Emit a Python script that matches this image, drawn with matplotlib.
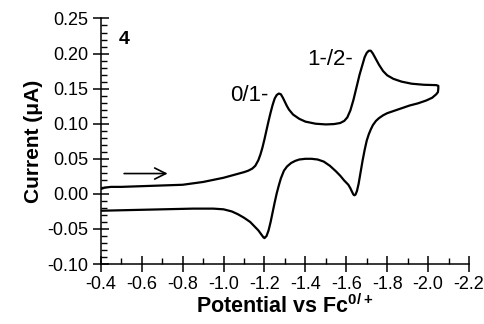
import matplotlib
matplotlib.use("Agg")
import matplotlib.pyplot as plt
from matplotlib.ticker import MultipleLocator, FormatStrFormatter

plt.rcParams['font.family'] = ['Liberation Sans', 'DejaVu Sans']
plt.rcParams['mathtext.fontset'] = 'custom'
plt.rcParams['mathtext.bf'] = 'Liberation Sans:bold'

# forward scan (towards negative potential)
fwd_potential = [-0.40, -0.42, -0.45, -0.50, -0.60, -0.70, -0.80, -0.90, -1.00, -1.05,
                 -1.10, -1.12, -1.14, -1.155, -1.17, -1.18, -1.19, -1.20, -1.21, -1.22,
                 -1.23, -1.24, -1.25, -1.26, -1.27, -1.28, -1.29, -1.30, -1.31, -1.32,
                 -1.34, -1.37, -1.40, -1.45, -1.50, -1.54, -1.57, -1.59, -1.605, -1.62,
                 -1.635, -1.65, -1.665, -1.68, -1.69, -1.70, -1.71, -1.72, -1.73, -1.745,
                 -1.76, -1.78, -1.80, -1.83, -1.87, -1.92, -1.98, -2.04, -2.05]
fwd_current = [0.007, 0.009, 0.010, 0.010, 0.011, 0.012, 0.013, 0.017, 0.023, 0.027,
               0.031, 0.033, 0.036, 0.040, 0.048, 0.056, 0.066, 0.078, 0.091, 0.104,
               0.116, 0.127, 0.136, 0.141, 0.143, 0.142, 0.137, 0.131, 0.125, 0.120,
               0.113, 0.107, 0.103, 0.100, 0.099, 0.0995, 0.101, 0.104, 0.109, 0.119,
               0.134, 0.152, 0.170, 0.185, 0.195, 0.201, 0.204, 0.204, 0.200, 0.192,
               0.184, 0.175, 0.169, 0.164, 0.160, 0.157, 0.1555, 0.155, 0.154]

# return scan
rev_potential = [-2.05, -2.048, -2.04, -2.02, -1.99, -1.95, -1.91, -1.87, -1.83, -1.80,
                 -1.78, -1.76, -1.745, -1.73, -1.72, -1.71, -1.70, -1.69, -1.68, -1.67,
                 -1.66, -1.652, -1.645, -1.64, -1.635, -1.628, -1.62, -1.61, -1.59, -1.57,
                 -1.55, -1.52, -1.49, -1.46, -1.43, -1.40, -1.37, -1.35, -1.33, -1.31,
                 -1.295, -1.28, -1.27, -1.26, -1.25, -1.24, -1.23, -1.22, -1.21, -1.20,
                 -1.195, -1.185, -1.17, -1.15, -1.13, -1.10, -1.07, -1.04, -1.00, -0.95,
                 -0.85, -0.70, -0.55, -0.40]
rev_current = [0.150, 0.145, 0.142, 0.137, 0.133, 0.129, 0.126, 0.122, 0.118, 0.115,
               0.112, 0.108, 0.104, 0.098, 0.092, 0.085, 0.076, 0.063, 0.048, 0.031,
               0.014, 0.004, -0.001, -0.002, -0.001, 0.003, 0.008, 0.013, 0.019, 0.026,
               0.032, 0.040, 0.046, 0.049, 0.050, 0.050, 0.049, 0.047, 0.044, 0.039,
               0.033, 0.022, 0.012, 0.001, -0.012, -0.026, -0.040, -0.052, -0.060, -0.063,
               -0.062, -0.058, -0.052, -0.046, -0.040, -0.034, -0.029, -0.025, -0.022, -0.021,
               -0.021, -0.022, -0.023, -0.024]

fig = plt.figure(figsize=(4.85, 3.24), dpi=100)
ax = fig.add_axes([0.208, 0.185, 0.759, 0.758])

ax.plot(fwd_potential + rev_potential, fwd_current + rev_current, color='black', lw=1.6,
        solid_joinstyle='round')

ax.set_xlim(-0.4, -2.2)
ax.set_ylim(-0.10, 0.25)
ax.spines['top'].set_visible(False)
ax.spines['right'].set_visible(False)
for s in ('left', 'bottom'):
    ax.spines[s].set_linewidth(1.1)

ax.xaxis.set_major_locator(MultipleLocator(0.2))
ax.xaxis.set_minor_locator(MultipleLocator(0.1))
ax.yaxis.set_major_locator(MultipleLocator(0.05))
ax.yaxis.set_minor_locator(MultipleLocator(0.01))
ax.xaxis.set_major_formatter(FormatStrFormatter('%.1f'))
ax.yaxis.set_major_formatter(FormatStrFormatter('%.2f'))
ax.tick_params(axis='x', which='major', direction='inout', length=11, width=1.1, labelsize=13, pad=3)
ax.tick_params(axis='y', which='major', direction='inout', length=12, width=1.1, labelsize=13, pad=3)
ax.tick_params(which='minor', direction='in', length=4.5, width=1.0)

ax.set_xlabel('Potential vs Fc$^{\\mathbf{0/+}}$', fontsize=15.5, fontweight='bold', labelpad=1)
ax.set_ylabel('Current (\u03bcA)', fontsize=15, fontweight='bold', labelpad=3)

ax.text(-0.512, 0.22, '4', fontsize=14, fontweight='bold', ha='center', va='center')
ax.text(-1.124, 0.140, '0/1-', fontsize=16, ha='center', va='center')
ax.text(-1.52, 0.191, '1-/2-', fontsize=16, ha='center', va='center')
ax.annotate('', xy=(-0.74, 0.029), xytext=(-0.5, 0.029),
            arrowprops=dict(arrowstyle='->', color='black', lw=1.2, mutation_scale=20))

fig.savefig('out.png', dpi=100)
